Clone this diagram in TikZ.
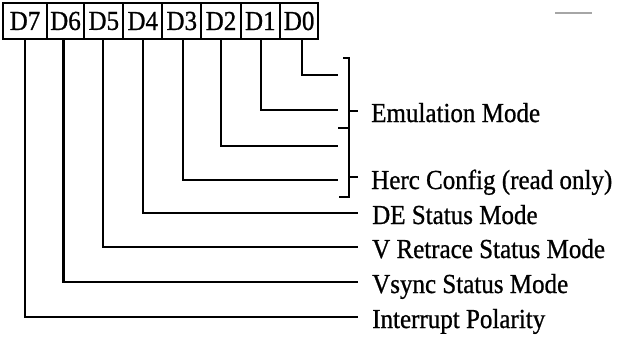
\documentclass[tikz,border=0pt]{standalone}
\usepackage{fontspec}
\setmainfont{Liberation Serif}[FakeStretch=0.91,FakeBold=0.8]
\begin{document}
\begin{tikzpicture}[x=1pt,y=-1pt,
  bitbox/.style={draw,line width=1.8pt,minimum height=36pt,inner sep=0pt,
    font=\fontsize{27.5}{32}\selectfont},
  lab/.style={anchor=base west,inner sep=0pt,font=\fontsize{27.5}{32}\selectfont},
  wire/.style={line width=2.4pt},
  brk/.style={line width=2pt}]
\useasboundingbox (0,0) rectangle (620,337);
% register boxes
\node[bitbox,minimum width=43.4pt] (d7) at (25,21) {D7};
\node[bitbox,minimum width=37.6pt] (d6) at (65.5,21) {D6};
\node[bitbox,minimum width=39pt] (d5) at (103.8,21) {D5};
\node[bitbox,minimum width=39pt] (d4) at (142.8,21) {D4};
\node[bitbox,minimum width=39pt] (d3) at (181.8,21) {D3};
\node[bitbox,minimum width=39.4pt] (d2) at (221,21) {D2};
\node[bitbox,minimum width=39.3pt] (d1) at (260.35,21) {D1};
\node[bitbox,minimum width=38.3pt] (d0) at (299.15,21) {D0};
% wire ends
\coordinate (e0) at (338,75);
\coordinate (e1) at (338,110);
\coordinate (e2) at (338,146);
\coordinate (e3) at (338,180);
\coordinate (e4) at (358,213);
\coordinate (e5) at (358,247);
\coordinate (e6) at (358,282);
\coordinate (e7) at (358,317);
% labels
\node[lab] (lemu) at (371,122) {Emulation Mode};
\node[lab] (lherc) at (371,189) {Herc Config (read only)};
\node[lab] (l4) at (372,224) {DE Status Mode};
\node[lab] (l5) at (372,258) {V Retrace Status Mode};
\node[lab] (l6) at (372,293) {Vsync Status Mode};
\node[lab] (l7) at (372,328) {Interrupt Polarity};
% wires
\draw[wire] ([xshift=3pt]d0.south) |- (e0);
\draw[wire] ([xshift=0.6pt]d1.south) |- (e1);
\draw[wire] (d2.south) |- (e2);
\draw[wire] ([xshift=1.2pt]d3.south) |- (e3);
\draw[wire] (d4.south) |- (e4);
\draw[wire] ([xshift=-0.8pt]d5.south) |- (e5);
\draw[wire] ([xshift=-2pt]d6.south) |- (e6);
\draw[wire] (d7.south) |- (e7);
% brackets
\coordinate (b1) at (349,111);
\coordinate (b2) at (349,177);
\draw[brk] (343,58) -- (349,58) -- (349,197) -- (339,197);
\draw[brk] (338,128) -- (349,128);
\draw[brk] (b1) -- (358,111);
\draw[brk] (b2) -- (358,177);
% stray mark
\draw[line width=1.3pt,gray!70] (555,13) -- (592,13);
\end{tikzpicture}
\end{document}
